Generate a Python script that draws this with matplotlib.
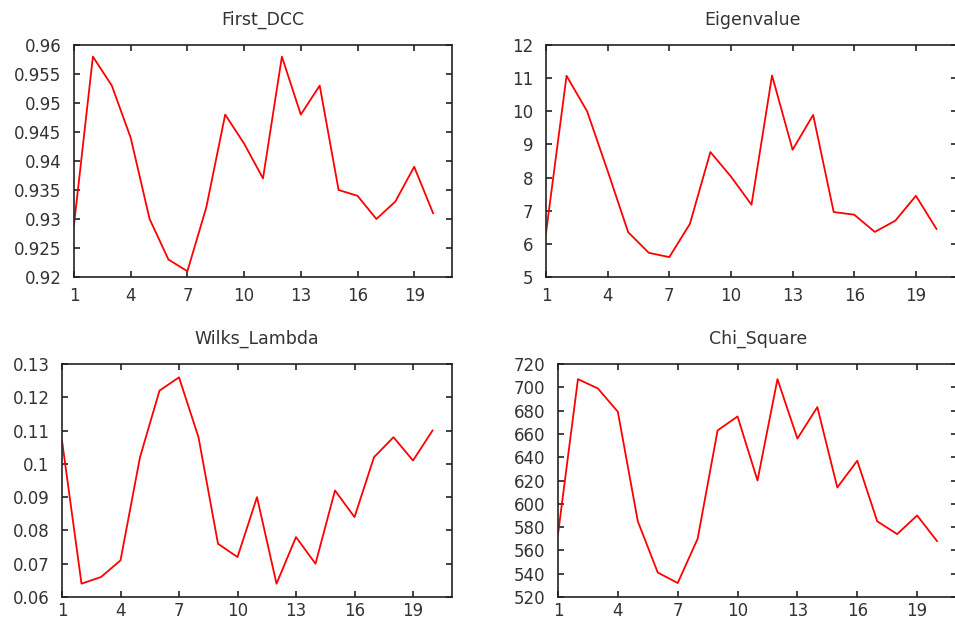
import matplotlib
matplotlib.use("Agg")
import matplotlib.pyplot as plt

x = list(range(1, 21))
first_dcc = [0.929, 0.958, 0.953, 0.944, 0.930, 0.923, 0.921, 0.932, 0.948, 0.943,
             0.937, 0.958, 0.948, 0.953, 0.935, 0.934, 0.930, 0.933, 0.939, 0.931]
eigenvalue = [6.33, 11.07, 10.0, 8.2, 6.35, 5.73, 5.6, 6.6, 8.77, 8.03,
              7.18, 11.08, 8.84, 9.89, 6.96, 6.88, 6.36, 6.7, 7.45, 6.45]
wilks_lambda = [0.107, 0.064, 0.066, 0.071, 0.102, 0.122, 0.126, 0.108, 0.076, 0.072,
                0.090, 0.064, 0.078, 0.070, 0.092, 0.084, 0.102, 0.108, 0.101, 0.110]
chi_square = [574, 707, 699, 679, 585, 541, 532, 570, 663, 675,
              620, 707, 656, 683, 614, 637, 585, 574, 590, 568]

xticks = [1, 4, 7, 10, 13, 16, 19]
titles = ["First_DCC", "Eigenvalue", "Wilks_Lambda", "Chi_Square"]
series = [first_dcc, eigenvalue, wilks_lambda, chi_square]
ylims = [(0.92, 0.96), (5, 12), (0.06, 0.13), (520, 720)]
yticks = [
    [0.92, 0.925, 0.93, 0.935, 0.94, 0.945, 0.95, 0.955, 0.96],
    [5, 6, 7, 8, 9, 10, 11, 12],
    [0.06, 0.07, 0.08, 0.09, 0.1, 0.11, 0.12, 0.13],
    [520, 540, 560, 580, 600, 620, 640, 660, 680, 700, 720],
]
ylabels = [
    ["0.92", "0.925", "0.93", "0.935", "0.94", "0.945", "0.95", "0.955", "0.96"],
    ["5", "6", "7", "8", "9", "10", "11", "12"],
    ["0.06", "0.07", "0.08", "0.09", "0.1", "0.11", "0.12", "0.13"],
    ["520", "540", "560", "580", "600", "620", "640", "660", "680", "700", "720"],
]

W, H = 955, 622
# axes boxes in pixels: left, right, top, bottom
boxes = [
    (74, 452, 45, 277),
    (546, 957, 45, 277),
    (62, 452, 364, 597),
    (558, 957, 364, 597),
]
title_pos = [(263, 20), (752, 20), (257, 339), (758, 339)]
xpads = [7, 7, 3.5, 3.5]

txt_color = "#333333"
fig = plt.figure(figsize=(W / 100, H / 100), dpi=100)
for i in range(4):
    l, r, t, b = boxes[i]
    ax = fig.add_axes([l / W, 1 - b / H, (r - l) / W, (b - t) / H])
    ax.plot(x, series[i], color="#ff0000", linewidth=1.3)
    ax.set_xlim(1, 21)
    ax.set_ylim(*ylims[i])
    ax.set_xticks(xticks)
    ax.set_xticklabels([str(v) for v in xticks])
    ax.set_yticks(yticks[i])
    ax.set_yticklabels(ylabels[i])
    ax.tick_params(direction="in", length=4.5, width=1.2, top=True, right=True,
                   labelsize=12, colors="#222222", labelcolor=txt_color)
    ax.tick_params(axis="x", pad=xpads[i])
    ax.tick_params(axis="y", pad=9)
    for s in ax.spines.values():
        s.set_linewidth(1.2)
        s.set_color("#222222")
    tx, ty = title_pos[i]
    fig.text(tx / W, 1 - ty / H, titles[i], ha="center", va="center",
             fontsize=12.5, color=txt_color)

fig.savefig("out.png", dpi=100)
